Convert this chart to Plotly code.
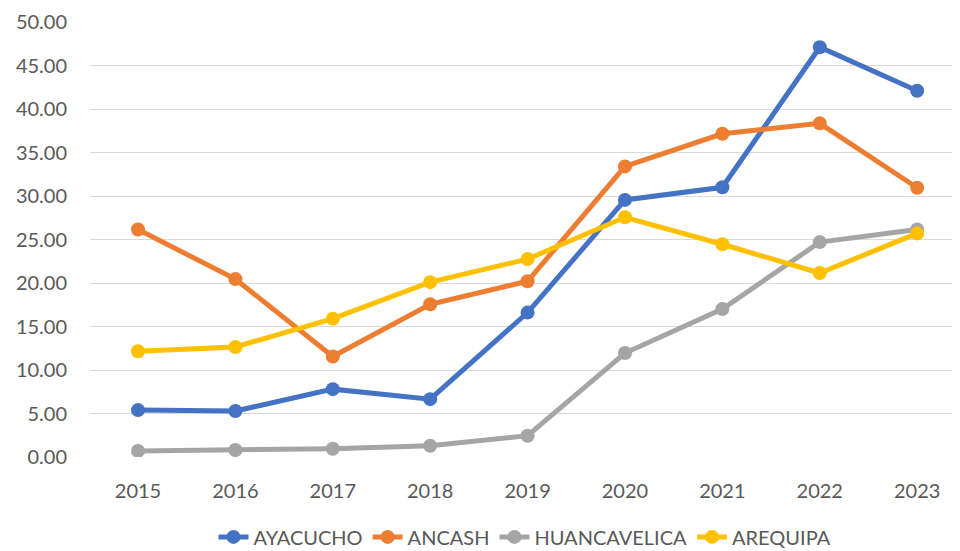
import plotly.graph_objects as go

years = [2015, 2016, 2017, 2018, 2019, 2020, 2021, 2022, 2023]

ayacucho = [5.39, 5.28, 7.80, 6.65, 16.60, 29.55, 31.00, 47.10, 42.10]
ancash = [26.15, 20.45, 11.55, 17.55, 20.20, 33.40, 37.15, 38.35, 30.95]
huancavelica = [0.70, 0.80, 0.95, 1.30, 2.45, 11.95, 17.00, 24.70, 26.15]
arequipa = [12.15, 12.65, 15.90, 20.10, 22.75, 27.55, 24.45, 21.15, 25.70]

series = [
    ("AYACUCHO", ayacucho, "#4472C4"),
    ("ANCASH", ancash, "#ED7D31"),
    ("HUANCAVELICA", huancavelica, "#A5A5A5"),
    ("AREQUIPA", arequipa, "#FFC000"),
]

fig = go.Figure()
for name, vals, color in series:
    fig.add_trace(go.Scatter(
        x=years, y=vals, name=name, mode="lines+markers",
        line=dict(color=color, width=5),
        marker=dict(color=color, size=14),
    ))

font = dict(family="Lato, Open Sans, sans-serif", size=20, color="#595959")

# page body has an 8px margin, so the figure is a bit smaller than the window
fig.update_layout(
    width=952, height=543,
    margin=dict(l=82, r=0, t=14, b=94),
    plot_bgcolor="white", paper_bgcolor="white",
    font=font,
    showlegend=True,
    legend=dict(orientation="h", x=0.5, xanchor="center", y=0.026, yanchor="middle",
                yref="container", font=font, entrywidth=0, traceorder="normal"),
)
fig.update_xaxes(
    range=[2014.507, 2023.44], tickmode="array", tickvals=years,
    ticktext=[str(y) for y in years], showgrid=False, zeroline=False,
    showline=False, ticks="", ticklabelstandoff=20, automargin=False,
)
fig.update_yaxes(
    range=[0, 50], tickmode="array", tickvals=list(range(0, 51, 5)),
    ticktext=[f"{v:.2f}" for v in range(0, 51, 5)],
    showgrid=True, gridcolor="#D9D9D9", gridwidth=1.3, zeroline=False,
    showline=False, ticks="", ticklabelstandoff=22, automargin=False,
)

fig.write_html("out.html")
